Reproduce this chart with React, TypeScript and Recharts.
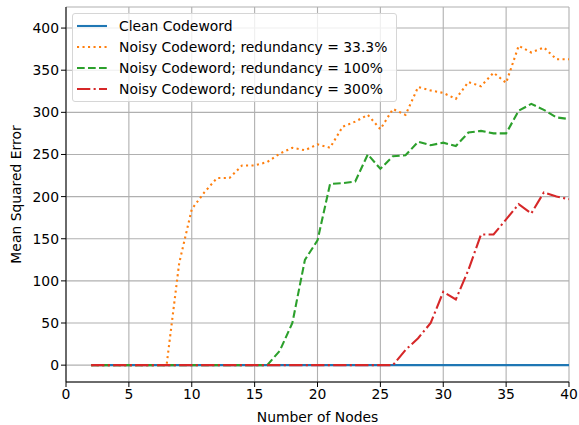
import React from "react"
import {
  LineChart,
  Line,
  XAxis,
  YAxis,
  CartesianGrid,
  Legend,
  Label,
} from "recharts"

const nodes = [
  2, 3, 4, 5, 6, 7, 8, 9, 10, 11, 12, 13, 14, 15, 16, 17, 18, 19, 20, 21,
  22, 23, 24, 25, 26, 27, 28, 29, 30, 31, 32, 33, 34, 35, 36, 37, 38, 39, 40,
]
const clean = nodes.map(() => 0)
const noisy33 = [
  0, 0, 0, 0, 0, 0, 0, 121, 185, 205, 222, 222, 237, 237, 241, 251, 258, 255,
  262, 258, 283, 289, 297, 280, 304, 297, 330, 326, 323, 316, 336, 331, 347,
  335, 379, 371, 377, 363, 363,
]
const noisy100 = [
  0, 0, 0, 0, 0, 0, 0, 0, 0, 0, 0, 0, 0, 0, 0, 17, 50, 125, 148, 215, 216,
  218, 250, 233, 248, 249, 265, 261, 264, 260, 276, 278, 275, 275, 302, 310,
  303, 294, 292,
]
const noisy300 = [
  0, 0, 0, 0, 0, 0, 0, 0, 0, 0, 0, 0, 0, 0, 0, 0, 0, 0, 0, 0, 0, 0, 0, 0, 0,
  18, 32, 50, 87, 78, 113, 155, 155, 173, 191, 180, 205, 200, 197,
]
const xTicks = [0, 5, 10, 15, 20, 25, 30, 35, 40]
const yTicks = [0, 50, 100, 150, 200, 250, 300, 350, 400]

const SERIES = [
  { key: "clean", name: "Clean Codeword", color: "#1f77b4", dash: undefined },
  { key: "n33", name: "Noisy Codeword; redundancy = 33.3%", color: "#ff7f0e", dash: "2.1 3.4" },
  { key: "n100", name: "Noisy Codeword; redundancy = 100%", color: "#2ca02c", dash: "7.7 3.3" },
  { key: "n300", name: "Noisy Codeword; redundancy = 300%", color: "#d62728", dash: "13.3 3.3 2.1 3.3" },
]

const data = nodes.map((n, i) => ({
  n,
  clean: clean[i],
  n33: noisy33[i],
  n100: noisy100[i],
  n300: noisy300[i],
}))

const FONT = "DejaVu Sans, sans-serif"

function LegendBox() {
  return (
    <div
      style={{
        width: 323,
        height: 85,
        border: "1px solid #d6d6d6",
        borderRadius: 3,
        background: "rgba(255,255,255,0.8)",
        fontFamily: FONT,
        fontSize: 13.9,
        color: "#000",
        boxSizing: "content-box",
        paddingTop: 2,
      }}
    >
      {SERIES.map((s) => (
        <div key={s.key} style={{ display: "flex", alignItems: "center", height: 20.8 }}>
          <svg width={46} height={10} style={{ flex: "none" }}>
            <line x1={4} x2={34} y1={5} y2={5} stroke={s.color} strokeWidth={2.1} strokeDasharray={s.dash} />
          </svg>
          <span style={{ whiteSpace: "nowrap" }}>{s.name}</span>
        </div>
      ))}
    </div>
  )
}

export default function App() {
  return (
    <div style={{ position: "fixed", left: 0, top: 0, background: "#fff" }}>
      <LineChart width={579} height={425} data={data} margin={{ top: 7, right: 10, bottom: 0, left: 0 }}>
        <CartesianGrid stroke="#b0b0b0" strokeWidth={1.1} />
        <XAxis
          dataKey="n"
          type="number"
          domain={[0, 40]}
          ticks={xTicks}
          height={43}
          tickSize={5}
          stroke="#000"
          tick={{ fill: "#000", fontSize: 13.9, fontFamily: FONT }}
          allowDataOverflow
        >
          <Label value="Number of Nodes" position="insideBottom" offset={3} style={{ fontSize: 13.9, fontFamily: FONT, fill: "#000" }} />
        </XAxis>
        <XAxis xAxisId="top" orientation="top" dataKey="n" type="number" domain={[0, 40]} height={0} tick={false} tickLine={false} stroke="#000" />
        <YAxis
          type="number"
          domain={[-20, 425]}
          ticks={yTicks}
          width={66}
          tickSize={5}
          stroke="#000"
          tick={{ fill: "#000", fontSize: 13.9, fontFamily: FONT }}
          allowDataOverflow
        >
          <Label value="Mean Squared Error" angle={-90} position="center" dx={-17} style={{ fontSize: 13.9, fontFamily: FONT, fill: "#000", textAnchor: "middle" }} />
        </YAxis>
        <YAxis yAxisId="right" orientation="right" domain={[-20, 425]} width={0} tick={false} tickLine={false} stroke="#000" />
        {SERIES.map((s) => (
          <Line
            key={s.key}
            dataKey={s.key}
            name={s.name}
            stroke={s.color}
            strokeWidth={2.1}
            strokeDasharray={s.dash}
            dot={false}
            activeDot={false}
            type="linear"
            isAnimationActive={false}
          />
        ))}
        <Legend
          content={<LegendBox />}
          layout="vertical"
          align="center"
          verticalAlign="middle"
          wrapperStyle={{ top: 13, left: 72, width: "auto" }}
        />
      </LineChart>
    </div>
  )
}
